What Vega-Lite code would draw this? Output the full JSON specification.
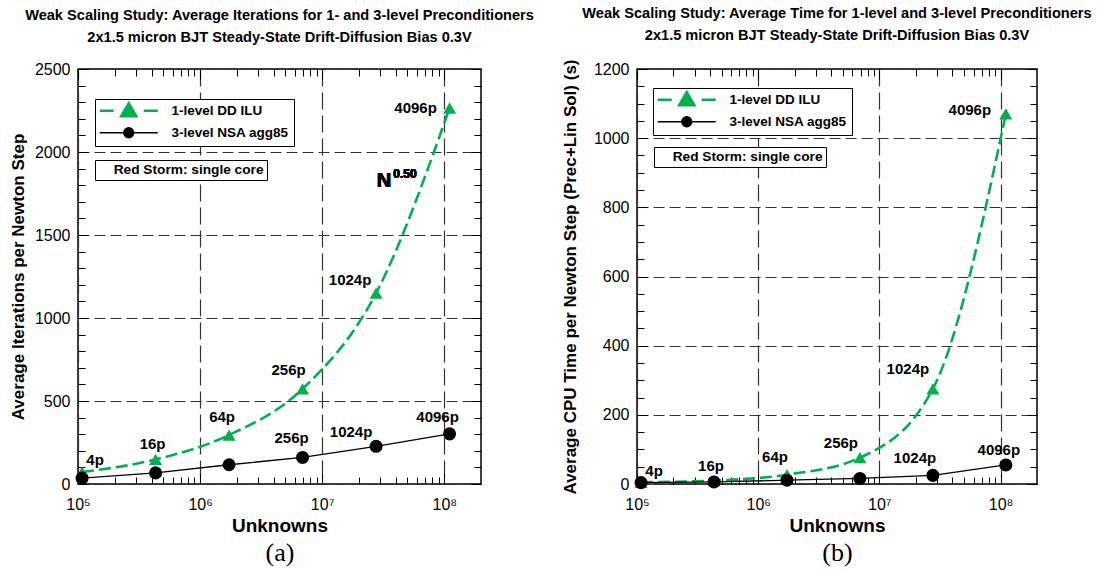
{
  "$schema": "https://vega.github.io/schema/vega-lite/v6.json",
  "background": "white",
  "padding": {"left": 8, "top": 5, "right": 5, "bottom": 5},
  "config": {
    "font": "Liberation Sans",
    "view": {"stroke": "black", "strokeWidth": 1.5},
    "axis": {"labelFont": "Liberation Sans", "labelFontSize": 16, "labelColor": "black", "titleFont": "Liberation Sans", "titleFontSize": 17, "titleFontWeight": "bold", "titleColor": "black", "domain": false, "tickColor": "black", "tickWidth": 1, "gridColor": "#333333", "gridWidth": 1.2},
    "title": {"font": "Liberation Sans", "fontSize": 14.6, "fontWeight": "bold", "color": "black", "lineHeight": 22, "offset": 16, "anchor": "middle"},
    "text": {"font": "Liberation Sans", "fontSize": 15, "fontWeight": "bold", "color": "black", "baseline": "middle", "align": "center"},
    "legend": {"labelFont": "Liberation Sans", "labelFontSize": 13.5, "labelFontWeight": "bold", "labelColor": "black", "labelLimit": 300, "strokeColor": "black", "fillColor": "white"}
  },
  "datasets": {
    "iters": [
      {"series": "1-level DD ILU", "procs": "4p", "N": 108000, "v": 72},
      {"series": "1-level DD ILU", "procs": "16p", "N": 432000, "v": 148},
      {"series": "1-level DD ILU", "procs": "64p", "N": 1728000, "v": 295},
      {"series": "1-level DD ILU", "procs": "256p", "N": 6912000, "v": 573},
      {"series": "1-level DD ILU", "procs": "1024p", "N": 27648000, "v": 1150},
      {"series": "1-level DD ILU", "procs": "4096p", "N": 110592000, "v": 2265},
      {"series": "3-level NSA agg85", "procs": "4p", "N": 108000, "v": 36},
      {"series": "3-level NSA agg85", "procs": "16p", "N": 432000, "v": 67},
      {"series": "3-level NSA agg85", "procs": "64p", "N": 1728000, "v": 116},
      {"series": "3-level NSA agg85", "procs": "256p", "N": 6912000, "v": 160},
      {"series": "3-level NSA agg85", "procs": "1024p", "N": 27648000, "v": 227},
      {"series": "3-level NSA agg85", "procs": "4096p", "N": 110592000, "v": 302}
    ],
    "time": [
      {"series": "1-level DD ILU", "procs": "4p", "N": 108000, "v": 5},
      {"series": "1-level DD ILU", "procs": "16p", "N": 432000, "v": 10},
      {"series": "1-level DD ILU", "procs": "64p", "N": 1728000, "v": 27},
      {"series": "1-level DD ILU", "procs": "256p", "N": 6912000, "v": 76},
      {"series": "1-level DD ILU", "procs": "1024p", "N": 27648000, "v": 275},
      {"series": "1-level DD ILU", "procs": "4096p", "N": 110592000, "v": 1070},
      {"series": "3-level NSA agg85", "procs": "4p", "N": 108000, "v": 4},
      {"series": "3-level NSA agg85", "procs": "16p", "N": 432000, "v": 6},
      {"series": "3-level NSA agg85", "procs": "64p", "N": 1728000, "v": 11},
      {"series": "3-level NSA agg85", "procs": "256p", "N": 6912000, "v": 16},
      {"series": "3-level NSA agg85", "procs": "1024p", "N": 27648000, "v": 25},
      {"series": "3-level NSA agg85", "procs": "4096p", "N": 110592000, "v": 55}
    ]
  },
  "hconcat": [
    {
      "width": 403,
      "height": 415,
      "title": {"text": ["Weak Scaling Study: Average Iterations for 1- and 3-level Preconditioners", "2x1.5 micron BJT Steady-State Drift-Diffusion Bias 0.3V"]},
      "data": {"name": "iters"},
      "resolve": {"axis": {"x": "independent", "y": "independent"}},
      "layer": [
        {
          "transform": [{"filter": "datum.series === '1-level DD ILU'"}],
          "mark": {"type": "line", "stroke": "#00b050", "strokeWidth": 2.6, "strokeDash": [12, 5], "interpolate": "monotone"},
          "encoding": {
            "x": {"field": "N", "type": "quantitative", "scale": {"type": "log", "domain": [100000, 200000000], "nice": false},
              "axis": {"orient": "bottom", "values": [100000, 1000000, 10000000, 100000000], "ticks": false, "grid": true, "gridDash": [17, 6], "labelExpr": "datum.value < 500000 ? '10⁵' : datum.value < 5000000 ? '10⁶' : datum.value < 50000000 ? '10⁷' : '10⁸'", "labelFlush": false, "labelOverlap": false, "labelPadding": 12, "title": "Unknowns", "titleFontSize": 19, "titlePadding": 4}},
            "y": {"field": "v", "type": "quantitative", "scale": {"domain": [0, 2500], "nice": false},
              "axis": {"orient": "left", "values": [0, 500, 1000, 1500, 2000, 2500], "format": "d", "ticks": false, "grid": true, "gridDash": [11, 5], "labelPadding": 8, "labelFlush": false, "labelOverlap": false, "title": "Average Iterations per Newton Step", "titlePadding": 7}}
          }
        },
        {
          "transform": [{"filter": "datum.series === '3-level NSA agg85'"}],
          "mark": {"type": "line", "stroke": "black", "strokeWidth": 1.3},
          "encoding": {
            "x": {"field": "N", "type": "quantitative", "axis": {"orient": "bottom", "values": [100000, 1000000, 10000000, 100000000], "tickSize": -10, "labels": false, "grid": false, "title": "(a)", "titleFont": "Liberation Serif", "titleFontSize": 26, "titleFontWeight": "normal", "titlePadding": 55}},
            "y": {"field": "v", "type": "quantitative", "axis": {"orient": "left", "values": [0, 500, 1000, 1500, 2000, 2500], "tickSize": -10, "labels": false, "grid": false, "title": null}}
          }
        },
        {
          "transform": [{"filter": "datum.series === '1-level DD ILU'"}],
          "mark": {"type": "point", "filled": true, "shape": "triangle-up", "color": "#00b050", "size": 170, "opacity": 1},
          "encoding": {
            "x": {"field": "N", "type": "quantitative", "axis": {"orient": "bottom", "values": [200000, 300000, 400000, 500000, 600000, 700000, 800000, 900000, 2000000, 3000000, 4000000, 5000000, 6000000, 7000000, 8000000, 9000000, 20000000, 30000000, 40000000, 50000000, 60000000, 70000000, 80000000, 90000000], "tickSize": -7, "labels": false, "grid": false, "title": null}},
            "y": {"field": "v", "type": "quantitative", "axis": {"orient": "left", "values": [0, 100, 200, 300, 400, 500, 600, 700, 800, 900, 1000, 1100, 1200, 1300, 1400, 1500, 1600, 1700, 1800, 1900, 2000, 2100, 2200, 2300, 2400, 2500], "tickSize": -7, "labels": false, "grid": false, "title": null}}
          }
        },
        {
          "transform": [{"filter": "datum.series === '3-level NSA agg85'"}],
          "mark": {"type": "point", "filled": true, "shape": "circle", "color": "#000000", "size": 170, "opacity": 1},
          "encoding": {"x": {"field": "N", "type": "quantitative", "axis": null}, "y": {"field": "v", "type": "quantitative", "axis": null}}
        },
        {
          "transform": [{"filter": "datum.series === '1-level DD ILU' && datum.procs === '4p'"}],
          "mark": {"type": "text", "dx": 13, "dy": -12},
          "encoding": {
            "x": {"field": "N", "type": "quantitative", "axis": {"orient": "top", "values": [100000, 1000000, 10000000, 100000000], "tickSize": -10, "labels": false, "grid": false, "title": null}},
            "y": {"field": "v", "type": "quantitative", "axis": {"orient": "right", "values": [0, 500, 1000, 1500, 2000, 2500], "tickSize": -10, "labels": false, "grid": false, "title": null}},
            "text": {"field": "procs"}
          }
        },
        {
          "transform": [{"filter": "datum.series === '1-level DD ILU' && datum.procs === '16p'"}],
          "mark": {"type": "text", "dx": -3, "dy": -15},
          "encoding": {
            "x": {"field": "N", "type": "quantitative", "axis": {"orient": "top", "values": [200000, 300000, 400000, 500000, 600000, 700000, 800000, 900000, 2000000, 3000000, 4000000, 5000000, 6000000, 7000000, 8000000, 9000000, 20000000, 30000000, 40000000, 50000000, 60000000, 70000000, 80000000, 90000000], "tickSize": -7, "labels": false, "grid": false, "title": null}},
            "y": {"field": "v", "type": "quantitative", "axis": {"orient": "right", "values": [0, 100, 200, 300, 400, 500, 600, 700, 800, 900, 1000, 1100, 1200, 1300, 1400, 1500, 1600, 1700, 1800, 1900, 2000, 2100, 2200, 2300, 2400, 2500], "tickSize": -7, "labels": false, "grid": false, "title": null}},
            "text": {"field": "procs"}
          }
        },
        {
          "transform": [{"filter": "datum.series === '1-level DD ILU' && datum.procs === '64p'"}],
          "mark": {"type": "text", "dx": -7, "dy": -18},
          "encoding": {"x": {"field": "N", "type": "quantitative", "axis": null}, "y": {"field": "v", "type": "quantitative", "axis": null}, "text": {"field": "procs"}}
        },
        {
          "transform": [{"filter": "datum.series === '1-level DD ILU' && datum.procs === '256p'"}],
          "mark": {"type": "text", "dx": -14, "dy": -19},
          "encoding": {"x": {"field": "N", "type": "quantitative", "axis": null}, "y": {"field": "v", "type": "quantitative", "axis": null}, "text": {"field": "procs"}}
        },
        {
          "transform": [{"filter": "datum.series === '1-level DD ILU' && datum.procs === '1024p'"}],
          "mark": {"type": "text", "dx": -26, "dy": -13},
          "encoding": {"x": {"field": "N", "type": "quantitative", "axis": null}, "y": {"field": "v", "type": "quantitative", "axis": null}, "text": {"field": "procs"}}
        },
        {
          "transform": [{"filter": "datum.series === '1-level DD ILU' && datum.procs === '4096p'"}],
          "mark": {"type": "text", "dx": -34, "dy": 0},
          "encoding": {"x": {"field": "N", "type": "quantitative", "axis": null}, "y": {"field": "v", "type": "quantitative", "axis": null}, "text": {"field": "procs"}}
        },
        {
          "transform": [{"filter": "datum.series === '3-level NSA agg85' && datum.procs === '256p'"}],
          "mark": {"type": "text", "dx": -11, "dy": -19},
          "encoding": {"x": {"field": "N", "type": "quantitative", "axis": null}, "y": {"field": "v", "type": "quantitative", "axis": null}, "text": {"field": "procs"}}
        },
        {
          "transform": [{"filter": "datum.series === '3-level NSA agg85' && datum.procs === '1024p'"}],
          "mark": {"type": "text", "dx": -25, "dy": -14},
          "encoding": {"x": {"field": "N", "type": "quantitative", "axis": null}, "y": {"field": "v", "type": "quantitative", "axis": null}, "text": {"field": "procs"}}
        },
        {
          "transform": [{"filter": "datum.series === '3-level NSA agg85' && datum.procs === '4096p'"}],
          "mark": {"type": "text", "dx": -12, "dy": -17},
          "encoding": {"x": {"field": "N", "type": "quantitative", "axis": null}, "y": {"field": "v", "type": "quantitative", "axis": null}, "text": {"field": "procs"}}
        },
        {
          "mark": {"type": "text", "fontSize": 20, "align": "right"},
          "encoding": {"x": {"datum": 36800000, "type": "quantitative", "axis": null}, "y": {"datum": 1825, "type": "quantitative", "axis": null}, "text": {"value": "N"}}
        },
        {
          "mark": {"type": "text", "fontSize": 12, "align": "left"},
          "encoding": {"x": {"datum": 38300000, "type": "quantitative", "axis": null}, "y": {"datum": 1866, "type": "quantitative", "axis": null}, "text": {"value": "0.50"}}
        },
        {
          "mark": {"type": "point", "filled": true, "opacity": 0},
          "encoding": {
            "fill": {"field": "series", "type": "nominal", "scale": {"domain": ["1-level DD ILU", "3-level NSA agg85"], "range": ["#00b050", "#000000"]},
              "legend": {"orient": "none", "legendX": 17, "legendY": 30, "title": null, "padding": 5, "symbolSize": 100, "symbolOpacity": 1, "symbolOffset": 22, "labelOffset": 36, "rowPadding": 3, "labelFont": "Liberation Sans", "labelFontSize": 13.5}},
            "stroke": {"field": "series", "type": "nominal", "scale": {"domain": ["1-level DD ILU", "3-level NSA agg85"], "range": ["#00b050", "#000000"]}},
            "shape": {"field": "series", "type": "nominal", "scale": {"domain": ["1-level DD ILU", "3-level NSA agg85"], "range": ["M-5.8,0H-3M3,0H5.8M-1.5,1.1L0,-1.5L1.5,1.1ZM-0.9,0.753L0,-0.807L0.9,0.753ZM-0.375,0.45L0,-0.417L0.375,0.45Z", "M-5.8,0H5.8M1,0A1,1,0,1,1,-1,0A1,1,0,1,1,1,0ZM0.78,0A0.78,0.78,0,1,1,-0.78,0A0.78,0.78,0,1,1,0.78,0ZM0.56,0A0.56,0.56,0,1,1,-0.56,0A0.56,0.56,0,1,1,0.56,0ZM0.34,0A0.34,0.34,0,1,1,-0.34,0A0.34,0.34,0,1,1,0.34,0ZM0.12,0A0.12,0.12,0,1,1,-0.12,0A0.12,0.12,0,1,1,0.12,0Z"]}},
            "strokeWidth": {"field": "series", "type": "nominal", "scale": {"domain": ["1-level DD ILU", "3-level NSA agg85"], "range": [2.6, 1.3]}}
          }
        },
        {
          "data": {"values": [{"note": "Red Storm: single core"}]},
          "mark": {"type": "point", "filled": true, "opacity": 0},
          "encoding": {
            "color": {"field": "note", "type": "nominal", "scale": {"range": ["#ffffff"]},
              "legend": {"orient": "none", "legendX": 17, "legendY": 91, "title": null, "padding": 3, "symbolSize": 1, "symbolOpacity": 0, "symbolStrokeWidth": 0, "symbolOffset": 0, "labelOffset": 2, "labelFont": "Liberation Sans", "labelFontSize": 13.7}}
          }
        }
      ]
    },
    {
      "width": 400,
      "height": 415,
      "title": {"text": ["Weak Scaling Study: Average Time for 1-level and 3-level Preconditioners", "2x1.5 micron BJT Steady-State Drift-Diffusion Bias 0.3V"]},
      "data": {"name": "time"},
      "resolve": {"axis": {"x": "independent", "y": "independent"}},
      "layer": [
        {
          "transform": [{"filter": "datum.series === '1-level DD ILU'"}],
          "mark": {"type": "line", "stroke": "#00b050", "strokeWidth": 2.6, "strokeDash": [12, 5], "interpolate": "monotone"},
          "encoding": {
            "x": {"field": "N", "type": "quantitative", "scale": {"type": "log", "domain": [100000, 200000000], "nice": false},
              "axis": {"orient": "bottom", "values": [100000, 1000000, 10000000, 100000000], "ticks": false, "grid": true, "gridDash": [17, 6], "labelExpr": "datum.value < 500000 ? '10⁵' : datum.value < 5000000 ? '10⁶' : datum.value < 50000000 ? '10⁷' : '10⁸'", "labelFlush": false, "labelOverlap": false, "labelPadding": 12, "title": "Unknowns", "titleFontSize": 19, "titlePadding": 4}},
            "y": {"field": "v", "type": "quantitative", "scale": {"domain": [0, 1200], "nice": false},
              "axis": {"orient": "left", "values": [0, 200, 400, 600, 800, 1000, 1200], "format": "d", "ticks": false, "grid": true, "gridDash": [11, 5], "labelPadding": 8, "labelFlush": false, "labelOverlap": false, "title": "Average CPU Time per Newton Step (Prec+Lin Sol) (s)", "titlePadding": 14}}
          }
        },
        {
          "transform": [{"filter": "datum.series === '3-level NSA agg85'"}],
          "mark": {"type": "line", "stroke": "black", "strokeWidth": 1.3},
          "encoding": {
            "x": {"field": "N", "type": "quantitative", "axis": {"orient": "bottom", "values": [100000, 1000000, 10000000, 100000000], "tickSize": -10, "labels": false, "grid": false, "title": "(b)", "titleFont": "Liberation Serif", "titleFontSize": 26, "titleFontWeight": "normal", "titlePadding": 55}},
            "y": {"field": "v", "type": "quantitative", "axis": {"orient": "left", "values": [0, 200, 400, 600, 800, 1000, 1200], "tickSize": -10, "labels": false, "grid": false, "title": null}}
          }
        },
        {
          "transform": [{"filter": "datum.series === '1-level DD ILU'"}],
          "mark": {"type": "point", "filled": true, "shape": "triangle-up", "color": "#00b050", "size": 170, "opacity": 1},
          "encoding": {
            "x": {"field": "N", "type": "quantitative", "axis": {"orient": "bottom", "values": [200000, 300000, 400000, 500000, 600000, 700000, 800000, 900000, 2000000, 3000000, 4000000, 5000000, 6000000, 7000000, 8000000, 9000000, 20000000, 30000000, 40000000, 50000000, 60000000, 70000000, 80000000, 90000000], "tickSize": -7, "labels": false, "grid": false, "title": null}},
            "y": {"field": "v", "type": "quantitative", "axis": {"orient": "left", "values": [0, 50, 100, 150, 200, 250, 300, 350, 400, 450, 500, 550, 600, 650, 700, 750, 800, 850, 900, 950, 1000, 1050, 1100, 1150, 1200], "tickSize": -7, "labels": false, "grid": false, "title": null}}
          }
        },
        {
          "transform": [{"filter": "datum.series === '3-level NSA agg85'"}],
          "mark": {"type": "point", "filled": true, "shape": "circle", "color": "#000000", "size": 170, "opacity": 1},
          "encoding": {"x": {"field": "N", "type": "quantitative", "axis": null}, "y": {"field": "v", "type": "quantitative", "axis": null}}
        },
        {
          "transform": [{"filter": "datum.series === '1-level DD ILU' && datum.procs === '4p'"}],
          "mark": {"type": "text", "dx": 13, "dy": -11},
          "encoding": {
            "x": {"field": "N", "type": "quantitative", "axis": {"orient": "top", "values": [100000, 1000000, 10000000, 100000000], "tickSize": -10, "labels": false, "grid": false, "title": null}},
            "y": {"field": "v", "type": "quantitative", "axis": {"orient": "right", "values": [0, 200, 400, 600, 800, 1000, 1200], "tickSize": -10, "labels": false, "grid": false, "title": null}},
            "text": {"field": "procs"}
          }
        },
        {
          "transform": [{"filter": "datum.series === '1-level DD ILU' && datum.procs === '16p'"}],
          "mark": {"type": "text", "dx": -3, "dy": -15},
          "encoding": {
            "x": {"field": "N", "type": "quantitative", "axis": {"orient": "top", "values": [200000, 300000, 400000, 500000, 600000, 700000, 800000, 900000, 2000000, 3000000, 4000000, 5000000, 6000000, 7000000, 8000000, 9000000, 20000000, 30000000, 40000000, 50000000, 60000000, 70000000, 80000000, 90000000], "tickSize": -7, "labels": false, "grid": false, "title": null}},
            "y": {"field": "v", "type": "quantitative", "axis": {"orient": "right", "values": [0, 50, 100, 150, 200, 250, 300, 350, 400, 450, 500, 550, 600, 650, 700, 750, 800, 850, 900, 950, 1000, 1050, 1100, 1150, 1200], "tickSize": -7, "labels": false, "grid": false, "title": null}},
            "text": {"field": "procs"}
          }
        },
        {
          "transform": [{"filter": "datum.series === '1-level DD ILU' && datum.procs === '64p'"}],
          "mark": {"type": "text", "dx": -12, "dy": -18},
          "encoding": {"x": {"field": "N", "type": "quantitative", "axis": null}, "y": {"field": "v", "type": "quantitative", "axis": null}, "text": {"field": "procs"}}
        },
        {
          "transform": [{"filter": "datum.series === '1-level DD ILU' && datum.procs === '256p'"}],
          "mark": {"type": "text", "dx": -19, "dy": -15},
          "encoding": {"x": {"field": "N", "type": "quantitative", "axis": null}, "y": {"field": "v", "type": "quantitative", "axis": null}, "text": {"field": "procs"}}
        },
        {
          "transform": [{"filter": "datum.series === '1-level DD ILU' && datum.procs === '1024p'"}],
          "mark": {"type": "text", "dx": -25, "dy": -20},
          "encoding": {"x": {"field": "N", "type": "quantitative", "axis": null}, "y": {"field": "v", "type": "quantitative", "axis": null}, "text": {"field": "procs"}}
        },
        {
          "transform": [{"filter": "datum.series === '1-level DD ILU' && datum.procs === '4096p'"}],
          "mark": {"type": "text", "dx": -36, "dy": -4},
          "encoding": {"x": {"field": "N", "type": "quantitative", "axis": null}, "y": {"field": "v", "type": "quantitative", "axis": null}, "text": {"field": "procs"}}
        },
        {
          "transform": [{"filter": "datum.series === '3-level NSA agg85' && datum.procs === '1024p'"}],
          "mark": {"type": "text", "dx": -18, "dy": -17},
          "encoding": {"x": {"field": "N", "type": "quantitative", "axis": null}, "y": {"field": "v", "type": "quantitative", "axis": null}, "text": {"field": "procs"}}
        },
        {
          "transform": [{"filter": "datum.series === '3-level NSA agg85' && datum.procs === '4096p'"}],
          "mark": {"type": "text", "dx": -7, "dy": -15},
          "encoding": {"x": {"field": "N", "type": "quantitative", "axis": null}, "y": {"field": "v", "type": "quantitative", "axis": null}, "text": {"field": "procs"}}
        },
        {
          "mark": {"type": "point", "filled": true, "opacity": 0},
          "encoding": {
            "fill": {"field": "series", "type": "nominal", "scale": {"domain": ["1-level DD ILU", "3-level NSA agg85"], "range": ["#00b050", "#000000"]},
              "legend": {"orient": "none", "legendX": 16, "legendY": 19, "title": null, "padding": 5, "symbolSize": 100, "symbolOpacity": 1, "symbolOffset": 22, "labelOffset": 36, "rowPadding": 3, "labelFont": "Liberation Sans", "labelFontSize": 13.5}},
            "stroke": {"field": "series", "type": "nominal", "scale": {"domain": ["1-level DD ILU", "3-level NSA agg85"], "range": ["#00b050", "#000000"]}},
            "shape": {"field": "series", "type": "nominal", "scale": {"domain": ["1-level DD ILU", "3-level NSA agg85"], "range": ["M-5.8,0H-3M3,0H5.8M-1.5,1.1L0,-1.5L1.5,1.1ZM-0.9,0.753L0,-0.807L0.9,0.753ZM-0.375,0.45L0,-0.417L0.375,0.45Z", "M-5.8,0H5.8M1,0A1,1,0,1,1,-1,0A1,1,0,1,1,1,0ZM0.78,0A0.78,0.78,0,1,1,-0.78,0A0.78,0.78,0,1,1,0.78,0ZM0.56,0A0.56,0.56,0,1,1,-0.56,0A0.56,0.56,0,1,1,0.56,0ZM0.34,0A0.34,0.34,0,1,1,-0.34,0A0.34,0.34,0,1,1,0.34,0ZM0.12,0A0.12,0.12,0,1,1,-0.12,0A0.12,0.12,0,1,1,0.12,0Z"]}},
            "strokeWidth": {"field": "series", "type": "nominal", "scale": {"domain": ["1-level DD ILU", "3-level NSA agg85"], "range": [2.6, 1.3]}}
          }
        },
        {
          "data": {"values": [{"note": "Red Storm: single core"}]},
          "mark": {"type": "point", "filled": true, "opacity": 0},
          "encoding": {
            "color": {"field": "note", "type": "nominal", "scale": {"range": ["#ffffff"]},
              "legend": {"orient": "none", "legendX": 17, "legendY": 78, "title": null, "padding": 3, "symbolSize": 1, "symbolOpacity": 0, "symbolStrokeWidth": 0, "symbolOffset": 0, "labelOffset": 2, "labelFont": "Liberation Sans", "labelFontSize": 13.7}}
          }
        }
      ]
    }
  ],
  "spacing": 156,
  "bounds": "flush",
  "resolve": {
    "scale": {"x": "independent", "y": "independent", "color": "independent", "stroke": "independent", "shape": "independent", "strokeWidth": "independent", "fill": "independent"},
    "legend": {"color": "independent", "stroke": "independent", "shape": "independent", "strokeWidth": "independent", "fill": "independent"}
  }
}
